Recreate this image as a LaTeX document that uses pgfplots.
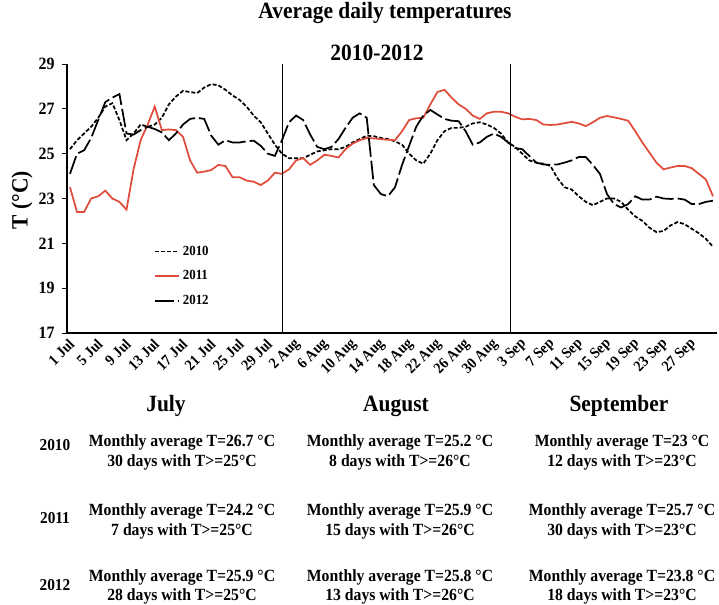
\documentclass[border=0pt]{standalone}
\usepackage{fontspec}
\setmainfont{Liberation Serif}[FakeStretch=0.92]
\usepackage{pgfplots}
\pgfplotsset{compat=1.18}
\usepackage{pgfplotstable}
\definecolor{red11}{RGB}{224,76,60}

\pgfplotstableread{
d t
0 25.2
1 25.6
2 25.9
3 26.2
4 26.6
5 27.1
6 27.25
7 26.5
8 25.6
9 25.9
10 26.3
11 26.2
12 26.3
13 26.6
14 27.2
15 27.55
16 27.8
17 27.75
18 27.7
19 27.95
20 28.1
21 28.05
22 27.85
23 27.6
24 27.4
25 27.1
26 26.7
27 26.4
28 25.9
29 25.4
30 25.0
31 24.8
32 24.8
33 24.8
34 24.95
35 25.1
36 25.15
37 25.2
38 25.2
39 25.3
40 25.5
41 25.65
42 25.8
43 25.78
44 25.7
45 25.65
46 25.55
47 25.4
48 25.0
49 24.7
50 24.55
51 25.0
52 25.6
53 26.0
54 26.15
55 26.15
56 26.2
57 26.35
58 26.4
59 26.3
60 26.15
61 25.9
62 25.5
63 25.3
64 25.0
65 24.7
66 24.6
67 24.55
68 24.45
69 23.9
70 23.5
71 23.4
72 23.1
73 22.85
74 22.7
75 22.85
76 23.0
77 23.0
78 22.85
79 22.5
80 22.2
81 22.0
82 21.7
83 21.5
84 21.55
85 21.8
86 21.95
87 21.85
88 21.65
89 21.45
90 21.2
91 20.85
}\tA

\pgfplotstableread{
d t
0 23.5
1 22.4
2 22.4
3 23.0
4 23.1
5 23.35
6 23.0
7 22.85
8 22.5
9 24.3
10 25.6
11 26.3
12 27.1
13 26.05
14 26.08
15 26.05
16 25.75
17 24.7
18 24.15
19 24.2
20 24.27
21 24.5
22 24.45
23 23.95
24 23.95
25 23.8
26 23.75
27 23.6
28 23.8
29 24.15
30 24.1
31 24.3
32 24.7
33 24.8
34 24.5
35 24.7
36 24.95
37 24.9
38 24.83
39 25.2
40 25.45
41 25.6
42 25.7
43 25.68
44 25.65
45 25.62
46 25.6
47 26.0
48 26.5
49 26.58
50 26.6
51 27.2
52 27.75
53 27.85
54 27.5
55 27.2
56 27.0
57 26.7
58 26.55
59 26.8
60 26.87
61 26.87
62 26.8
63 26.65
64 26.53
65 26.55
66 26.5
67 26.3
68 26.28
69 26.3
70 26.36
71 26.42
72 26.35
73 26.23
74 26.4
75 26.6
76 26.68
77 26.62
78 26.55
79 26.47
80 26.0
81 25.5
82 25.05
83 24.6
84 24.3
85 24.38
86 24.45
87 24.45
88 24.35
89 24.1
90 23.85
91 23.1
}\tB

\pgfplotstableread{
d t
0 24.1
1 25.0
2 25.15
3 25.7
4 26.5
5 27.3
6 27.5
7 27.66
8 25.9
9 25.85
10 26.05
11 26.2
12 26.1
13 25.95
14 25.6
15 25.9
16 26.3
17 26.55
18 26.6
19 26.55
20 25.8
21 25.4
22 25.6
23 25.5
24 25.5
25 25.55
26 25.58
27 25.35
28 25.0
29 24.9
30 25.6
31 26.4
32 26.7
33 26.5
34 25.85
35 25.3
36 25.2
37 25.3
38 25.65
39 26.15
40 26.6
41 26.8
42 26.6
43 23.6
44 23.2
45 23.1
46 23.5
47 24.5
48 25.35
49 26.2
50 26.7
51 26.95
52 26.75
53 26.55
54 26.47
55 26.45
56 26.0
57 25.4
58 25.5
59 25.75
60 25.9
61 25.75
62 25.5
63 25.25
64 25.2
65 24.9
66 24.6
67 24.52
68 24.5
69 24.52
70 24.6
71 24.7
72 24.85
73 24.85
74 24.5
75 24.1
76 23.2
77 22.75
78 22.6
79 22.75
80 23.1
81 22.95
82 22.95
83 23.08
84 23.0
85 22.98
86 23.0
87 22.95
88 22.75
89 22.75
90 22.85
91 22.9
}\tC

\begin{document}
\begin{tikzpicture}[x=0.75pt,y=-0.75pt]
\useasboundingbox (0,0) rectangle (719,605);
\begin{axis}[
  at={(50.25pt,-249.75pt)}, anchor=south west,
  scale only axis, width=487.5pt, height=201.75pt,
  xmin=-0.42, xmax=91.57, ymin=17, ymax=29,
  axis lines*=left,
  axis line style={line width=0.8pt},
  ytick={17,19,...,29},
  xtick={0,4,...,88},
  xticklabels={1 Jul,5 Jul,9 Jul,13 Jul,17 Jul,21 Jul,25 Jul,29 Jul,2 Aug,6 Aug,10 Aug,14 Aug,18 Aug,22 Aug,26 Aug,30 Aug,3 Sep,7 Sep,11 Sep,15 Sep,19 Sep,23 Sep,27 Sep},
  minor xtick={-0.42,0.231,...,91.6},
  xtick style={draw=none},
  minor x tick style={black, line width=0.6pt},
  ytick style={black, line width=0.6pt},
  tick align=outside,
  major tick length=3.75pt,
  minor tick length=3pt,
  /pgf/number format/assume math mode=true,
  yticklabel style={font=\bfseries\fontsize{13}{15}\selectfont, xshift=-2pt},
  xticklabel style={font=\bfseries\fontsize{11.5}{13}\selectfont, rotate=45, anchor=east, inner sep=1pt, yshift=-3pt},
  legend style={draw=none, fill=none, at={(0.128,0.345)}, anchor=north west,
    font=\bfseries\fontsize{10.5}{12}\selectfont, row sep=6pt},
  legend cell align=left,
  legend image code/.code={\draw[#1] (0pt,0pt) -- (18pt,0pt);},
  clip=false,
]
\addplot[black, line width=1.3pt, dash pattern=on 3pt off 1.5pt] table[x=d,y=t]{\tA};
\addlegendentry{2010}
\addplot[red11, line width=1.3pt] table[x=d,y=t]{\tB};
\addlegendentry{2011}
\addplot[black, line width=1.3pt, dash pattern=on 14pt off 3pt] table[x=d,y=t]{\tC};
\addlegendentry{2012}
\draw[black, line width=0.9pt] (axis cs:30.1,17) -- (axis cs:30.1,29);
\draw[black, line width=0.9pt] (axis cs:62.3,17) -- (axis cs:62.3,29);
\end{axis}

\begin{scope}[every node/.style={font=\bfseries}]
\node[font=\bfseries\fontsize{17.5}{20}\selectfont] at (385,13) {Average daily temperatures};
\node[font=\bfseries\fontsize{17.5}{20}\selectfont] at (377,53) {2010-2012};
\node[rotate=90, font=\bfseries\fontsize{17.5}{20}\selectfont] at (22,200) {T (°C)};

\node[font=\bfseries\fontsize{17.5}{20}\selectfont] at (166,406) {July};
\node[font=\bfseries\fontsize{17.5}{20}\selectfont] at (396,406) {August};
\node[font=\bfseries\fontsize{17.5}{20}\selectfont] at (619,406) {September};

\node[font=\bfseries\fontsize{12.5}{15}\selectfont] at (55,445) {2010};
\node[font=\bfseries\fontsize{12.5}{15}\selectfont] at (55,518) {2011};
\node[font=\bfseries\fontsize{12.5}{15}\selectfont] at (55,585) {2012};

\begin{scope}[every node/.style={font=\bfseries\fontsize{12.8}{15}\selectfont}]
\node at (182,442) {Monthly average T=26.7 °C};
\node at (182,462) {30 days with T>=25°C};
\node at (400,442) {Monthly average T=25.2 °C};
\node at (400,462) {8 days with T>=26°C};
\node at (622,442) {Monthly average T=23 °C};
\node at (622,462) {12 days with T>=23°C};

\node at (182,511) {Monthly average T=24.2 °C};
\node at (182,531) {7 days with T>=25°C};
\node at (400,511) {Monthly average T=25.9 °C};
\node at (400,531) {15 days with T>=26°C};
\node at (622,511) {Monthly average T=25.7 °C};
\node at (622,531) {30 days with T>=23°C};

\node at (182,577) {Monthly average T=25.9 °C};
\node at (182,596) {28 days with T>=25°C};
\node at (400,577) {Monthly average T=25.8 °C};
\node at (400,596) {13 days with T>=26°C};
\node at (622,577) {Monthly average T=23.8 °C};
\node at (622,596) {18 days with T>=23°C};
\end{scope}
\end{scope}
\end{tikzpicture}
\end{document}
